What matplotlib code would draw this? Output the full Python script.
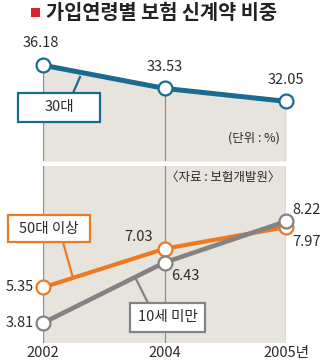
import matplotlib.pyplot as plt
from matplotlib.patches import Rectangle
from matplotlib.lines import Line2D

plt.rcParams['font.family'] = ['Noto Sans CJK KR', 'DejaVu Sans']

years = ['2002', '2004', '2005년']
age30 = [36.18, 33.53, 32.05]
age50 = [5.35, 7.03, 7.97]
under10 = [3.81, 6.43, 8.22]

W, H = 325, 363
BG = '#e6e4dd'
BLUE = '#1b6a8f'
ORANGE = '#ec7a22'
GRAY = '#838383'
TXT = '#2b2b2b'


def fx(x):
    return x / W


def fy(y):
    return 1 - y / H


fig = plt.figure(figsize=(W / 100, H / 100), dpi=100)

# top panel (30대)
ax1 = fig.add_axes([fx(43), fy(161), fx(286) - fx(43), fy(40) - fy(161)])
# bottom panel
ax2 = fig.add_axes([fx(43), fy(343), fx(286) - fx(43), fy(166) - fy(343)])

xs = range(len(years))
lo1, hi1 = 25.23, 39.06
lo2, hi2 = 2.94, 10.62

for ax in (ax1, ax2):
    ax.set_xlim(0, 2)
    ax.axis('off')

ax1.set_ylim(lo1, hi1)
ax2.set_ylim(lo2, hi2)

ax1.fill_between(xs, age30, lo1, color=BG, lw=0, zorder=0)
for i, v in zip(xs, age30):
    ax1.plot([i, i], [lo1, v], color='#8e8e8e', lw=0.9, zorder=1)

ax2.add_patch(Rectangle((0, 0), 1, 1, transform=ax2.transAxes, color=BG, lw=0, zorder=0))
for i in xs:
    ax2.plot([i, i], [lo2, hi2], color='#8e8e8e', lw=0.9, zorder=1)

mk = dict(marker='o', markersize=10, markerfacecolor='white', markeredgewidth=1.6, clip_on=False)
ax1.plot(xs, age30, color=BLUE, lw=3.6, markeredgecolor=BLUE, zorder=3, **mk)
ax2.plot(xs, age50, color=ORANGE, lw=3.0, markeredgecolor=ORANGE, zorder=3, **mk)
ax2.plot(xs, under10, color=GRAY, lw=3.3, markeredgecolor=GRAY, zorder=4, **mk)


def lab(ax, x, y, s, dx, dy, ha='center'):
    ax.annotate(s, xy=(x, y), xytext=(dx, dy), textcoords='offset pixels',
                ha=ha, va='center', fontsize=10.5, color=TXT)


lab(ax1, 0, age30[0], '36.18', -2, 22)
lab(ax1, 1, age30[1], '33.53', 0, 21)
lab(ax1, 2, age30[2], '32.05', 0, 21)
lab(ax2, 1, age50[1], '7.03', -12, 12, 'right')
lab(ax2, 1, under10[1], '6.43', 7, -13, 'left')
lab(ax2, 2, under10[2], '8.22', 6, 11, 'left')
lab(ax2, 2, age50[2], '7.97', 6, -15, 'left')
lab(ax2, 0, age50[0], '5.35', -9, 0, 'right')
lab(ax2, 0, under10[0], '3.81', -9, 0, 'right')

for i, s in zip(xs, years):
    ax2.annotate(s, xy=(i, 0), xycoords=('data', 'axes fraction'), xytext=(0, -10),
                 textcoords='offset pixels', ha='center', va='center', fontsize=10.5, color=TXT)


def tag(x0, y0, x1, y1, s, col, lead):
    fig.add_artist(Line2D([fx(lead[0]), fx(lead[2])], [fy(lead[1]), fy(lead[3])],
                          color=col, lw=1.6, zorder=5))
    fig.add_artist(Rectangle((fx(x0), fy(y1)), fx(x1) - fx(x0), fy(y0) - fy(y1),
                             facecolor='white', edgecolor=col, lw=1.6, zorder=6))
    fig.text(fx((x0 + x1) / 2), fy((y0 + y1) / 2), s, ha='center', va='center',
             fontsize=10.5, color=TXT, zorder=7)


tag(18, 93, 100, 122, '30대', BLUE, (73, 93, 80, 77))
tag(8, 215, 90, 242, '50대 이상', ORANGE, (63, 242, 73, 278))
tag(130, 303, 205, 332, '10세 미만', GRAY, (148, 303, 136, 279))

fig.text(fx(280), fy(138), '(단위 : %)', ha='right', va='center', fontsize=9, color=TXT)
fig.text(fx(280), fy(177), '〈자료 : 보험개발원〉', ha='right', va='center', fontsize=9, color=TXT)

# title
fig.add_artist(Rectangle((fx(31), fy(17)), fx(9), 9 / H, color='#d7232b', lw=0))
fig.text(fx(46), fy(13), '가입연령별 보험 신계약 비중', ha='left', va='center',
         fontsize=14.2, fontweight='bold', color='#222222')

fig.savefig('out.png', dpi=100)
